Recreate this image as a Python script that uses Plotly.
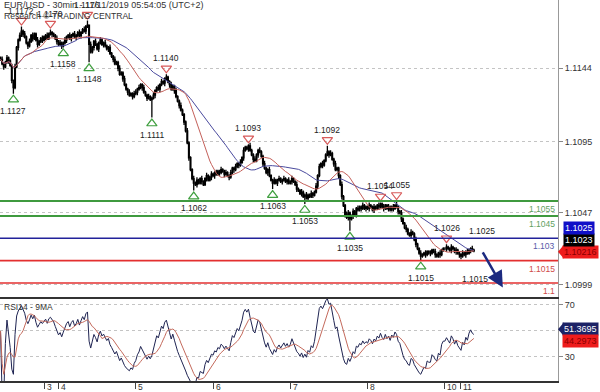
import numpy as np
import pandas as pd
import plotly.graph_objects as go

# ---------------- data (prices in pips above 1.1000) ----------------
BASE = 1.1
day_labels = ["3", "4", "5", "6", "7", "8", "10", "11"]
day_first_bar = [27, 36, 84, 132, 180, 228, 276, 286]

first_open = 151
close_pips = [
    # Nov 1
    150, 147, 145, 148, 151, 149, 146, 136, 131, 145, 158, 163, 166, 169, 167, 165, 161, 159, 162, 166,
    164, 167, 163, 160, 162, 164, 163,
    # Nov 3
    165, 166, 164, 167, 168, 167, 166, 164, 162,
    # Nov 4
    160, 161, 159, 161, 163, 165, 166, 164, 166, 167,
    165, 166, 168, 166, 168, 170, 169, 172, 173, 160,
    155, 158, 162, 160, 157, 161, 163, 160, 161, 159,
    157, 158, 154, 152, 150, 147, 148, 144, 140, 141,
    137, 133, 130, 128, 126, 127, 125, 127,
    # Nov 5
    128, 130, 131, 133, 131, 128, 126, 124, 125, 123,
    124, 126, 129, 131, 130, 133, 135, 134, 137, 138,
    135, 133, 130, 132, 129, 125, 122, 119, 116, 113,
    108, 102, 94, 84, 76, 70, 67, 66, 69, 67,
    70, 68, 66, 70, 72, 69, 71, 73,
    # Nov 6
    72, 74, 73, 75, 74, 76, 75, 73, 74, 72,
    71, 74, 77, 76, 78, 80, 79, 81, 84, 89,
    91, 90, 92, 89, 86, 83, 82, 86, 89, 88,
    85, 80, 77, 74, 76, 72, 69, 67, 69, 67,
    69, 70, 68, 69, 70, 68, 69, 67,
    # Nov 7
    68, 70, 68, 66, 63, 62, 60, 61, 58, 59,
    57, 59, 58, 60, 59, 61, 65, 72, 78, 80,
    79, 82, 86, 88, 86, 87, 83, 80, 76, 77,
    72, 66, 58, 52, 46, 44, 47, 43, 45, 48,
    46, 50, 49, 51, 50, 52, 50, 51,
    # Nov 8
    50, 52, 51, 49, 51, 50, 52, 51, 53, 51,
    50, 52, 50, 51, 49, 51, 50, 52, 51, 48,
    47, 43, 40, 37, 36, 33, 32, 34, 33, 29,
    26, 23, 20, 18, 19, 20, 19, 21, 20, 20,
    22, 21, 19, 18, 20, 19, 22, 23,
    # Nov 10
    23, 24, 23, 22, 24, 23, 21, 22, 20, 19,
    # Nov 11
    18, 20, 19, 21, 20, 22, 23, 22, 21.6,
]
high_wick = [
    1, 2, 1, 1, 2, 1, 1, 1, 0, 2, 1, 1, 2, 3, 1, 2, 1, 1, 2, 1, 2, 1, 1, 2, 1, 1, 2,
    1, 1, 2, 1, 2, 1, 1, 1, 2,
    1, 2, 1, 1, 2, 1, 1, 2, 1, 1, 2, 1, 1, 2, 1, 1, 2, 1, 3, 0, 2, 1, 1, 2, 1, 1, 2, 1, 1, 2,
    1, 1, 2, 1, 1, 2, 1, 1, 2, 1, 1, 2, 1, 1, 2, 1, 1, 2,
    2, 1, 2, 1, 1, 2, 1, 1, 2, 1, 1, 2, 1, 1, 2, 1, 2, 1, 1, 2, 1, 1, 2, 1, 1, 2, 1, 1, 2, 1,
    1, 1, 2, 1, 1, 1, 2, 1, 2, 1, 1, 2, 1, 1, 2, 1, 1, 2,
    1, 1, 2, 1, 1, 2, 1, 1, 2, 1, 1, 2, 1, 1, 2, 1, 1, 2, 1, 2, 1, 1, 1, 2, 1, 1, 2, 1, 1, 2,
    1, 1, 2, 1, 1, 2, 1, 1, 2, 1, 1, 2, 1, 1, 2, 1, 1, 2,
    1, 2, 1, 1, 2, 1, 1, 2, 1, 1, 2, 1, 1, 2, 1, 1, 2, 1, 2, 1, 2, 1, 1, 4, 1, 2, 1, 1, 2, 1,
    1, 1, 2, 1, 1, 2, 2, 1, 1, 2, 1, 1, 2, 1, 1, 2, 1, 1,
    1, 2, 1, 1, 2, 1, 1, 2, 1, 1, 2, 1, 1, 2, 1, 1, 2, 1, 3, 1, 1, 2, 1, 1, 2, 1, 1, 2, 1, 1,
    2, 1, 1, 2, 1, 1, 2, 1, 1, 2, 1, 1, 2, 1, 1, 2, 1, 1,
    1, 2, 1, 1, 2, 1, 1, 2, 1, 1,
    1, 2, 1, 1, 2, 1, 1, 2, 1,
]
low_wick = [
    1, 1, 2, 1, 1, 2, 1, 2, 4, 1, 1, 2, 1, 1, 2, 1, 1, 2, 1, 1, 2, 1, 1, 2, 1, 1, 2,
    1, 2, 1, 1, 1, 2, 1, 1, 2,
    1, 1, 2, 1, 1, 2, 1, 1, 2, 1, 1, 2, 1, 1, 2, 1, 1, 2, 1, 12, 1, 1, 2, 1, 1, 2, 1, 1, 2, 1,
    1, 2, 1, 1, 2, 1, 1, 2, 1, 1, 2, 1, 1, 2, 1, 1, 2, 1,
    1, 2, 1, 1, 2, 1, 1, 2, 1, 1, 12, 1, 2, 1, 1, 2, 1, 1, 2, 1, 1, 2, 1, 1, 2, 1, 1, 2, 1, 1,
    2, 1, 1, 2, 1, 1, 5, 1, 2, 1, 1, 2, 1, 1, 2, 1, 1, 2,
    1, 2, 1, 1, 2, 1, 1, 2, 1, 1, 2, 1, 1, 2, 1, 1, 2, 1, 1, 2, 1, 1, 2, 1, 1, 2, 1, 1, 2, 1,
    1, 2, 1, 1, 2, 1, 1, 4, 1, 1, 2, 1, 1, 2, 1, 1, 2, 1,
    1, 2, 1, 1, 2, 1, 1, 2, 1, 5, 1, 2, 1, 1, 2, 1, 1, 2, 1, 1, 2, 1, 1, 1, 2, 1, 1, 2, 1, 1,
    2, 1, 2, 1, 2, 1, 2, 8, 1, 2, 1, 2, 1, 1, 2, 1, 1, 2,
    1, 2, 1, 1, 2, 1, 1, 2, 1, 1, 2, 1, 1, 2, 1, 1, 2, 1, 1, 2, 1, 2, 1, 1, 2, 1, 1, 2, 1, 1,
    2, 1, 1, 3, 1, 1, 2, 1, 1, 2, 1, 1, 2, 1, 1, 2, 1, 1,
    1, 2, 1, 1, 2, 1, 1, 2, 1, 2,
    2, 1, 1, 2, 1, 1, 2, 1, 1,
]
swing_low_bars = [8, 39, 55, 94, 120, 169, 189, 217, 261]
swing_high_bars = [13, 31, 54, 103, 154, 203, 236, 246, 277]
proj_high_label = 1.1025
proj_low_label = 1.1015
proj_target = 1.0997

levels = [1.1055, 1.1045, 1.1030, 1.1015, 1.1000]
level_colors = ["#3f9a3f", "#3f9a3f", "#22229a", "#e33030", "#e33030"]
level_text_colors = ["#5f9f5f", "#5f9f5f", "#5a5aa8", "#d04a4a", "#d04a4a"]

price_ticks = [1.0999, 1.1047, 1.1095, 1.1144]
price_tags = ["1.10216", "1.1023", "1.1025"]          # bottom to top
price_tag_bg = ["#ee1c1c", "#000000", "#1010c8"]
price_tag_fg = ["#8a0000", "#ffffff", "#ffffff"]
rsi_tags = [51.3695, 44.2973]
rsi_tag_bg = ["#1c2266", "#ee1c1c"]
rsi_tag_fg = ["#ffffff", "#8a0000"]

title_text = "EUR/USD - 30min - 11/11/2019 05:54:05 (UTC+2)"
sub_text = "Research \u00a9 TRADING CENTRAL"

# ---------------- derived series ----------------
n = len(close_pips)
assert len(high_wick) == n and len(low_wick) == n
c = np.array(close_pips, float)
o = np.concatenate([[first_open], c[:-1]])
h = np.maximum(o, c) + np.array(high_wick)
l = np.minimum(o, c) - np.array(low_wick)
to_px = lambda a: BASE + np.asarray(a) / 1e4
O, H, L, C = to_px(o), to_px(h), to_px(l), to_px(c)
x = np.arange(n)

cs = pd.Series(C)
ma_fast = cs.rolling(20, min_periods=1).mean()
ma_slow = cs.rolling(40, min_periods=1).mean()
d = cs.diff().fillna(0)
up = d.clip(lower=0).ewm(alpha=1 / 14, adjust=False).mean()
dn = (-d.clip(upper=0)).ewm(alpha=1 / 14, adjust=False).mean()
rsi = 100 - 100 / (1 + up / dn.replace(0, np.nan))
rsi = rsi.fillna(50)
rsi_ma = rsi.rolling(9, min_periods=1).mean()

# ---------------- geometry ----------------
W, Hh = 600, 392
mr, mb = 42, 11
plot_h = Hh - mb
main_px = 299
split = (plot_h - main_px) / plot_h
bar_px = 1.61
x0 = 27 - 44 / bar_px
x1 = x0 + (W - mr) / bar_px
y_lo, y_hi = 1.098927, 1.118982
per_px = (y_hi - y_lo) / main_px

FONT = "Liberation Sans"
fig = go.Figure()

fig.add_trace(go.Candlestick(
    x=x, open=O, high=H, low=L, close=C,
    increasing=dict(line=dict(color="#000", width=1.3), fillcolor="#000"),
    decreasing=dict(line=dict(color="#000", width=1.3), fillcolor="#000"),
    whiskerwidth=0, hoverinfo="skip", xaxis="x", yaxis="y"))
fig.add_trace(go.Scatter(x=x, y=ma_slow, mode="lines", line=dict(color="#4a4a9e", width=1),
                         xaxis="x", yaxis="y", hoverinfo="skip"))
fig.add_trace(go.Scatter(x=x, y=ma_fast, mode="lines", line=dict(color="#c4605a", width=1),
                         xaxis="x", yaxis="y", hoverinfo="skip"))

# swing markers
fig.add_trace(go.Scatter(x=swing_low_bars, y=[L[i] - 6 * per_px for i in swing_low_bars],
                         mode="markers", marker=dict(symbol="triangle-up-open", size=9,
                                                     color="#3f9f3f", line=dict(width=1.2)),
                         xaxis="x", yaxis="y", hoverinfo="skip"))
fig.add_trace(go.Scatter(x=swing_high_bars, y=[H[i] + 6 * per_px for i in swing_high_bars],
                         mode="markers", marker=dict(symbol="triangle-down-open", size=9,
                                                     color="#d85a5a", line=dict(width=1.2)),
                         xaxis="x", yaxis="y", hoverinfo="skip"))

# RSI
fig.add_trace(go.Scatter(x=x, y=rsi, mode="lines", line=dict(color="#1f2452", width=1),
                         xaxis="x", yaxis="y2", hoverinfo="skip"))
fig.add_trace(go.Scatter(x=x, y=rsi_ma, mode="lines", line=dict(color="#c46a5c", width=1),
                         xaxis="x", yaxis="y2", hoverinfo="skip"))

ann = []
shapes = []
for i in swing_low_bars:
    ann.append(dict(x=i, y=L[i], xref="x", yref="y", text=f"{L[i]:.4f}", showarrow=False,
                    yshift=-17, font=dict(family=FONT, size=8.5, color="#222")))
for i in swing_high_bars:
    ann.append(dict(x=i, y=H[i], xref="x", yref="y", text=f"{H[i]:.4f}", showarrow=False,
                    yshift=16, font=dict(family=FONT, size=8.5, color="#222")))
ann.append(dict(x=n - 1 + 5, y=proj_high_label, xref="x", yref="y", text=f"{proj_high_label:.4f}",
                showarrow=False, yshift=15, font=dict(family=FONT, size=8.5, color="#222")))
ann.append(dict(x=n - 1 + 1, y=proj_low_label, xref="x", yref="y", text=f"{proj_low_label:.4f}",
                showarrow=False, yshift=-18, font=dict(family=FONT, size=8.5, color="#222")))

# horizontal levels
for lv, col, tcol in zip(levels, level_colors, level_text_colors):
    shapes.append(dict(type="line", xref="paper", x0=0, x1=1, yref="y", y0=lv, y1=lv,
                       line=dict(color=col, width=2 if col == "#3f9a3f" else 1.6)))
    ann.append(dict(x=1, y=lv, xref="paper", yref="y", text=f"{lv:g}", showarrow=False,
                    xanchor="right", yanchor="top", xshift=-1, yshift=-1,
                    font=dict(family=FONT, size=8.5, color=tcol)))

# projection arrow
ann.append(dict(x=n - 1 + 18, y=proj_target, ax=n - 1 + 5, ay=C[-1], xref="x", yref="y",
                axref="x", ayref="y", text="", showarrow=True, arrowhead=2, arrowsize=1.3,
                arrowwidth=2.5, arrowcolor="#1c2a80", standoff=0))

# price tags on the axis
for k, (t, bg, fg) in enumerate(zip(price_tags, price_tag_bg, price_tag_fg)):
    ann.append(dict(x=1, y=C[-1], xref="paper", yref="y", text=t, showarrow=False,
                    xanchor="left", xshift=5 if k else 4, yshift=-1 + 12 * k, bgcolor=bg,
                    borderpad=1, font=dict(family=FONT, size=9, color=fg)))
shapes.append(dict(type="path", xref="paper", xsizemode="pixel", xanchor=1,
                   yref="y", ysizemode="pixel", yanchor=C[-1],
                   path="M 0,-1 L 6,6 L 6,-8 Z", fillcolor=price_tag_bg[0], line=dict(width=0)))
for k, (v, bg, fg) in enumerate(zip(rsi_tags, rsi_tag_bg, rsi_tag_fg)):
    ann.append(dict(x=1, y=v, xref="paper", yref="y2", text=f"{v:.4f}", showarrow=False,
                    xanchor="left", xshift=4, yshift=0 if k == 0 else -3, bgcolor=bg,
                    borderpad=1, font=dict(family=FONT, size=9, color=fg)))
shapes.append(dict(type="path", xref="paper", xsizemode="pixel", xanchor=1,
                   yref="y2", ysizemode="pixel", yanchor=rsi_tags[0],
                   path="M 0,0 L 6,7 L 6,-7 Z", fillcolor=rsi_tag_bg[0], line=dict(width=0)))

# day labels to the right of the day ticks
for b, t in zip(day_first_bar, day_labels):
    ann.append(dict(x=b, y=0, xref="x", yref="paper", text=t, showarrow=False,
                    xanchor="left", yanchor="middle", xshift=1.5, yshift=-5.5, borderpad=0,
                    font=dict(family=FONT, size=8.5, color="#333")))

# titles
ann.append(dict(x=0, y=1, xref="paper", yref="paper", text=title_text, showarrow=False,
                xanchor="left", yanchor="top", xshift=2, yshift=2,
                font=dict(family=FONT, size=9, color="#333")))
ann.append(dict(x=0, y=1, xref="paper", yref="paper", text=sub_text, showarrow=False,
                xanchor="left", yanchor="top", xshift=2, yshift=-9,
                font=dict(family=FONT, size=8.6, color="#333")))
ann.append(dict(x=0, y=split, xref="paper", yref="paper", text="RSI14 - 9MA", showarrow=False,
                xanchor="left", yanchor="top", xshift=2, yshift=-1,
                font=dict(family=FONT, size=8.5, color="#333")))

fig.update_layout(
    width=W, height=Hh, margin=dict(l=0, r=mr, t=0, b=mb, autoexpand=False),
    paper_bgcolor="white", plot_bgcolor="white", showlegend=False,
    annotations=ann, shapes=shapes,
    xaxis=dict(domain=[0, 1], anchor="y2", range=[x0, x1], tickvals=day_first_bar,
               ticks="outside", ticklen=6, tickcolor="#444", showticklabels=False,
               showgrid=False, zeroline=False,
               showline=True, linecolor="#333", linewidth=1.5, mirror=True,
               rangeslider=dict(visible=False), fixedrange=True, automargin=False),
    yaxis=dict(domain=[split, 1], anchor="x", side="right", range=[y_lo, y_hi],
               tickvals=price_ticks, ticktext=[f"{v:.4f}" for v in price_ticks],
               ticks="outside", ticklen=4, tickcolor="#888", showline=True, linecolor="#999",
               showgrid=True, gridcolor="#c4c4c4", griddash="dot", zeroline=False,
               automargin=False, tickfont=dict(family=FONT, size=9, color="#333")),
    yaxis2=dict(domain=[0, split], anchor="x", side="right", range=[11.5, 74.6],
                tickvals=[30, 50, 70], ticktext=["30", "", "70"], ticks="outside", ticklen=4,
                tickcolor="#888", showline=True, linecolor="#999", showgrid=True,
                gridcolor="#c4c4c4", griddash="dot", zeroline=False, automargin=False,
                tickfont=dict(family=FONT, size=9, color="#333")),
)

fig.write_html("out.html")
